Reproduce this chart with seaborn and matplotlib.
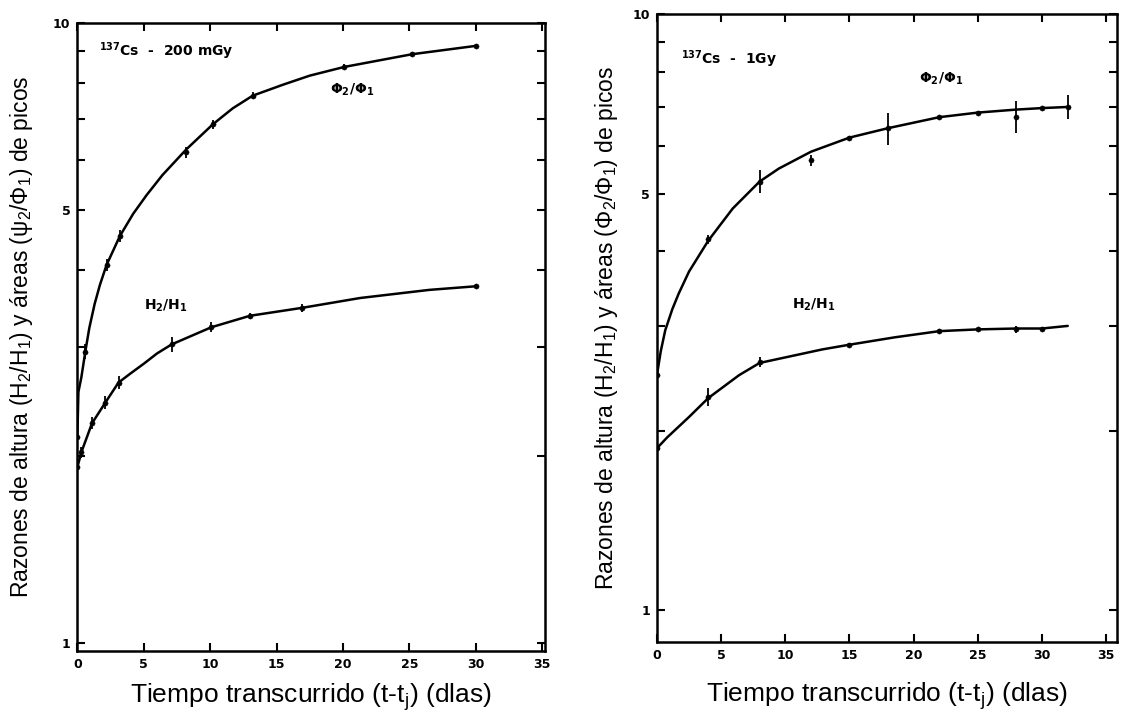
import matplotlib
matplotlib.use("Agg")
import matplotlib.pyplot as plt
import matplotlib.ticker as mticker
import pandas as pd
import seaborn as sns

# ---- 137Cs - 200 mGy (left panel) ----
t_phi_200 = [0, 0.6, 2.2, 3.2, 8.2, 10.2, 13.2, 20.1, 25.2, 30.0]
phi_200 = [2.15, 2.95, 4.07, 4.53, 6.18, 6.86, 7.63, 8.49, 8.90, 9.18]
phi_200_err = [0.04, 0.08, 0.09, 0.10, 0.12, 0.12, 0.10, 0.08, 0.06, 0.05]
t_h_200 = [0, 0.3, 1.1, 2.1, 3.1, 7.1, 10.1, 13.0, 16.9, 30.0]
h_200 = [1.92, 2.03, 2.26, 2.44, 2.63, 3.03, 3.23, 3.37, 3.47, 3.76]
h_200_err = [0.03, 0.04, 0.05, 0.06, 0.06, 0.08, 0.06, 0.04, 0.05, 0.03]
# hand-drawn curves
tc_phi_200 = [0, 0.08, 0.3, 0.6, 0.9, 1.3, 1.7, 2.2, 3.2, 4.2, 5.2, 6.4,
              8.2, 10.2, 11.7, 13.2, 15.5, 17.5, 20.1, 25.2, 30.0]
c_phi_200 = [2.15, 2.54, 2.68, 2.95, 3.22, 3.52, 3.78, 4.07, 4.53, 4.92,
             5.27, 5.68, 6.25, 6.86, 7.28, 7.63, 7.95, 8.22, 8.49, 8.90, 9.18]
tc_h_200 = [0, 0.3, 1.1, 2.1, 3.1, 4.0, 5.0, 6.0, 7.1, 10.1, 13.0, 16.9,
            21.3, 26.5, 30.0]
c_h_200 = [1.92, 2.03, 2.26, 2.44, 2.63, 2.72, 2.82, 2.93, 3.03, 3.23, 3.37,
           3.47, 3.60, 3.71, 3.76]

# ---- 137Cs - 1 Gy (right panel) ----
t_phi_1 = [0, 4, 8, 12, 15, 18, 22, 25, 28, 30, 32]
phi_1 = [2.48, 4.19, 5.24, 5.69, 6.21, 6.44, 6.72, 6.84, 6.73, 6.96, 6.99]
phi_1_err = [0.03, 0.08, 0.23, 0.12, 0.04, 0.40, 0.04, 0.04, 0.42, 0.04, 0.32]
t_h_1 = [0, 4, 8, 15, 22, 25, 28, 30]
h_1 = [1.87, 2.28, 2.61, 2.79, 2.94, 2.96, 2.96, 2.96]
h_1_err = [0.03, 0.08, 0.05, 0.02, 0.02, 0.02, 0.04, 0.02]
tc_phi_1 = [0, 0.3, 0.65, 1.2, 1.7, 2.5, 4.0, 5.9, 8.0, 9.5, 12.0, 15.0,
            18.0, 22.0, 25.0, 28.0, 30.0, 32.0]
c_phi_1 = [2.48, 2.72, 2.95, 3.20, 3.40, 3.70, 4.17, 4.72, 5.24, 5.51, 5.88,
           6.21, 6.44, 6.72, 6.84, 6.92, 6.96, 6.99]
tc_h_1 = [0, 0.8, 2.5, 4.0, 6.4, 8.0, 12.9, 15.0, 18.5, 22.0, 25.0, 28.0,
          30.0, 32.0]
c_h_1 = [1.87, 1.95, 2.11, 2.27, 2.48, 2.60, 2.74, 2.79, 2.87, 2.94, 2.96,
         2.97, 2.97, 3.00]

ylabel_left = "Razones de altura (H$_2$/H$_1$) y áreas ($\\psi_2$/$\\Phi_1$) de picos"
ylabel_right = "Razones de altura (H$_2$/H$_1$) y áreas ($\\Phi_2$/$\\Phi_1$) de picos"
xlabel = "Tiempo transcurrido (t-t$_j$) (dlas)"

sns.set_style("ticks")
plt.rcParams["font.family"] = ["Liberation Sans", "DejaVu Sans"]
plt.rcParams["mathtext.default"] = "regular"
plt.rcParams["text.color"] = "black"
plt.rcParams["axes.labelcolor"] = "black"
plt.rcParams["xtick.color"] = "black"
plt.rcParams["ytick.color"] = "black"

fig = plt.figure(figsize=(11.21, 7.14), dpi=100)
ax1 = fig.add_axes([0.069, 0.088, 0.417, 0.880])
ax2 = fig.add_axes([0.586, 0.101, 0.410, 0.879])


def draw_series(ax, tc, vc, t, v, err):
    curve = pd.DataFrame({"t": tc, "v": vc})
    sns.lineplot(data=curve, x="t", y="v", ax=ax, color="black", lw=1.8,
                 estimator=None, sort=False)
    pts = pd.DataFrame({"t": t, "v": v})
    sns.scatterplot(data=pts, x="t", y="v", ax=ax, color="black", s=14,
                    edgecolor="black", zorder=3)
    ax.errorbar(t, v, yerr=err, fmt="none", ecolor="black", elinewidth=1.3,
                capsize=0)


def style_axis(ax, xmax, ymin, ylab, lpad, xpad):
    ax.set_yscale("log")
    ax.set_xlim(0, xmax)
    ax.set_ylim(ymin, 10)
    ax.set_xticks([0, 5, 10, 15, 20, 25, 30, 35])
    ax.yaxis.set_major_locator(mticker.FixedLocator([1, 5, 10]))
    ax.yaxis.set_major_formatter(mticker.FixedFormatter(["1", "5", "10"]))
    ax.yaxis.set_minor_locator(mticker.FixedLocator([2, 3, 4, 6, 7, 8, 9]))
    ax.yaxis.set_minor_formatter(mticker.NullFormatter())
    ax.tick_params(which="both", direction="in", length=6, width=1.5,
                   top=True, right=True, labelsize=9, pad=5, colors="black")
    for lab in ax.get_xticklabels() + ax.get_yticklabels():
        lab.set_fontweight("bold")
        lab.set_family("DejaVu Sans")
    for s in ax.spines.values():
        s.set_linewidth(1.8)
        s.set_color("black")
    ax.set_ylabel(ylab, fontsize=16.5, labelpad=lpad, color="black")
    ax.set_xlabel(xlabel, fontsize=19, labelpad=xpad, color="black")


draw_series(ax1, tc_phi_200, c_phi_200, t_phi_200, phi_200, phi_200_err)
draw_series(ax1, tc_h_200, c_h_200, t_h_200, h_200, h_200_err)
style_axis(ax1, 35.2, 0.97, ylabel_left, 13, 7)
ax1.text(1.6, 9.0, "$^{137}$Cs  -  200 mGy", fontsize=10, fontweight="bold",
         family="DejaVu Sans", va="center", color="black")
ax1.text(19.0, 7.8, "$\\Phi_2$/$\\Phi_1$", fontsize=10, fontweight="bold",
         family="DejaVu Sans", va="center", color="black")
ax1.text(5.0, 3.5, "H$_2$/H$_1$", fontsize=10, fontweight="bold",
         family="DejaVu Sans", va="center", color="black")

draw_series(ax2, tc_phi_1, c_phi_1, t_phi_1, phi_1, phi_1_err)
draw_series(ax2, tc_h_1, c_h_1, t_h_1, h_1, h_1_err)
style_axis(ax2, 35.8, 0.885, ylabel_right, 9, 13)
ax2.text(1.9, 8.4, "$^{137}$Cs  -  1Gy", fontsize=10, fontweight="bold",
         family="DejaVu Sans", va="center", color="black")
ax2.text(20.4, 7.8, "$\\Phi_2$/$\\Phi_1$", fontsize=10, fontweight="bold",
         family="DejaVu Sans", va="center", color="black")
ax2.text(10.5, 3.25, "H$_2$/H$_1$", fontsize=10, fontweight="bold",
         family="DejaVu Sans", va="center", color="black")

for ax in (ax1, ax2):
    if ax.get_legend() is not None:
        ax.get_legend().remove()

fig.savefig("out.png", dpi=100)
